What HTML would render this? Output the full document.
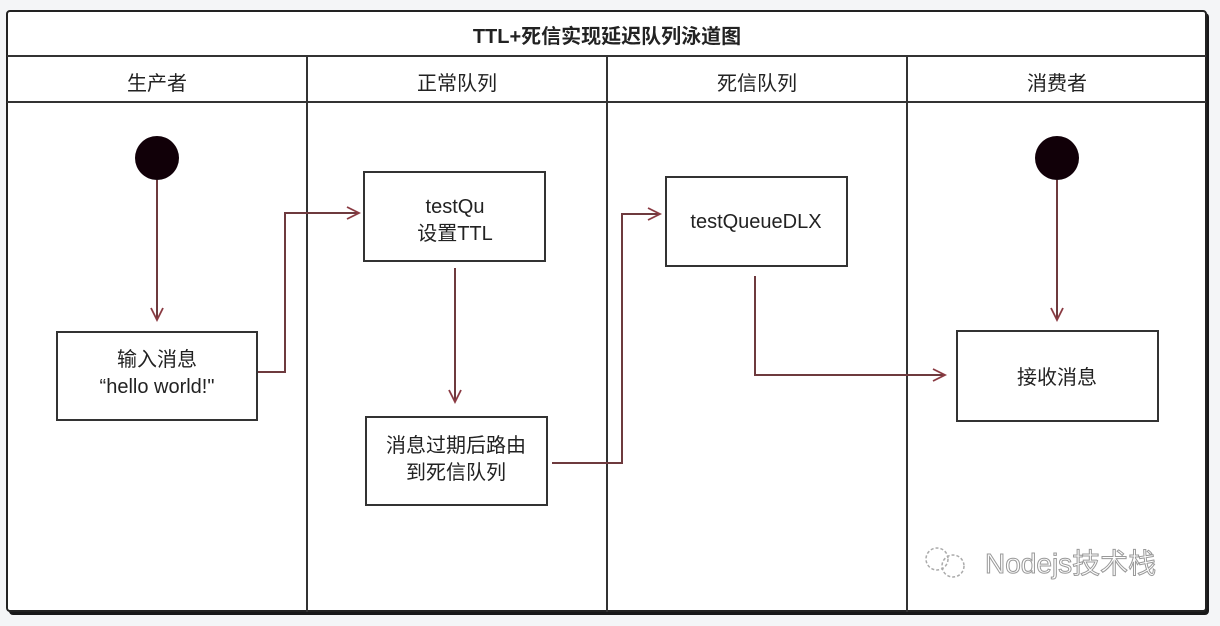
<!DOCTYPE html>
<html><head><meta charset="utf-8"><style>
html,body{margin:0;padding:0;background:#f4f5f7;}
svg{display:block;}
text{font-family:"Liberation Sans","Noto Sans CJK SC",sans-serif;fill:#222;}
</style></head><body>
<svg width="1220" height="626" viewBox="0 0 1220 626" xmlns="http://www.w3.org/2000/svg">
<defs>
<marker id="a" markerWidth="16" markerHeight="16" refX="13" refY="8" orient="auto" markerUnits="userSpaceOnUse">
<path d="M1,2 L13,8 L1,14" fill="none" stroke="#8a3a42" stroke-width="1.8"/>
</marker>
</defs>
<rect x="9" y="13" width="1200" height="602" rx="4" fill="#000" opacity="0.9"/>
<rect x="7" y="11" width="1199" height="600" rx="3" fill="#fff" stroke="#222" stroke-width="2"/>
<line x1="7" y1="56" x2="1206" y2="56" stroke="#333" stroke-width="2"/>
<line x1="7" y1="102" x2="1206" y2="102" stroke="#333" stroke-width="2"/>
<line x1="307" y1="56" x2="307" y2="612" stroke="#333" stroke-width="2"/>
<line x1="607" y1="56" x2="607" y2="612" stroke="#333" stroke-width="2"/>
<line x1="907" y1="56" x2="907" y2="612" stroke="#333" stroke-width="2"/>
<text x="607" y="43" font-size="20" font-weight="bold" text-anchor="middle">TTL+死信实现延迟队列泳道图</text>
<text x="157" y="90" font-size="20" text-anchor="middle">生产者</text>
<text x="457" y="90" font-size="20" text-anchor="middle">正常队列</text>
<text x="757" y="90" font-size="20" text-anchor="middle">死信队列</text>
<text x="1057" y="90" font-size="20" text-anchor="middle">消费者</text>

<g fill="none" stroke="#6e3a3e" stroke-width="2">
<line x1="157" y1="180" x2="157" y2="320" marker-end="url(#a)"/>
<polyline points="257,372 285,372 285,213 359,213" marker-end="url(#a)"/>
<line x1="455" y1="268" x2="455" y2="402" marker-end="url(#a)"/>
<polyline points="552,463 622,463 622,214 660,214" marker-end="url(#a)"/>
<polyline points="755,276 755,375 945,375" marker-end="url(#a)"/>
<line x1="1057" y1="180" x2="1057" y2="320" marker-end="url(#a)"/>
</g>
<circle cx="157" cy="158" r="22" fill="#110008"/>
<circle cx="1057" cy="158" r="22" fill="#110008"/>

<g fill="#fff" stroke="#333" stroke-width="2">
<rect x="57" y="332" width="200" height="88"/>
<rect x="364" y="172" width="181" height="89"/>
<rect x="366" y="417" width="181" height="88"/>
<rect x="666" y="177" width="181" height="89"/>
<rect x="957" y="331" width="201" height="90"/>
</g>
<text x="157" y="366" font-size="20" text-anchor="middle">输入消息</text>
<text x="157" y="393" font-size="20" text-anchor="middle">“hello world!"</text>
<text x="455" y="213" font-size="20" text-anchor="middle">testQu</text>
<text x="455" y="240" font-size="20" text-anchor="middle">设置TTL</text>
<text x="456" y="452" font-size="20" text-anchor="middle">消息过期后路由</text>
<text x="456" y="479" font-size="20" text-anchor="middle">到死信队列</text>
<text x="756" y="228" font-size="20" text-anchor="middle">testQueueDLX</text>
<text x="1057" y="384" font-size="20" text-anchor="middle">接收消息</text>

<g fill="none" stroke="#aaa" stroke-width="1.5" stroke-dasharray="3,2">
<circle cx="937" cy="559" r="11"/><circle cx="953" cy="566" r="11"/>
</g>
<text x="985" y="573" font-size="28" fill="#fff" stroke="#999" stroke-width="1" style="fill:#fff">Nodejs技术栈</text>
</svg>
</body></html>
